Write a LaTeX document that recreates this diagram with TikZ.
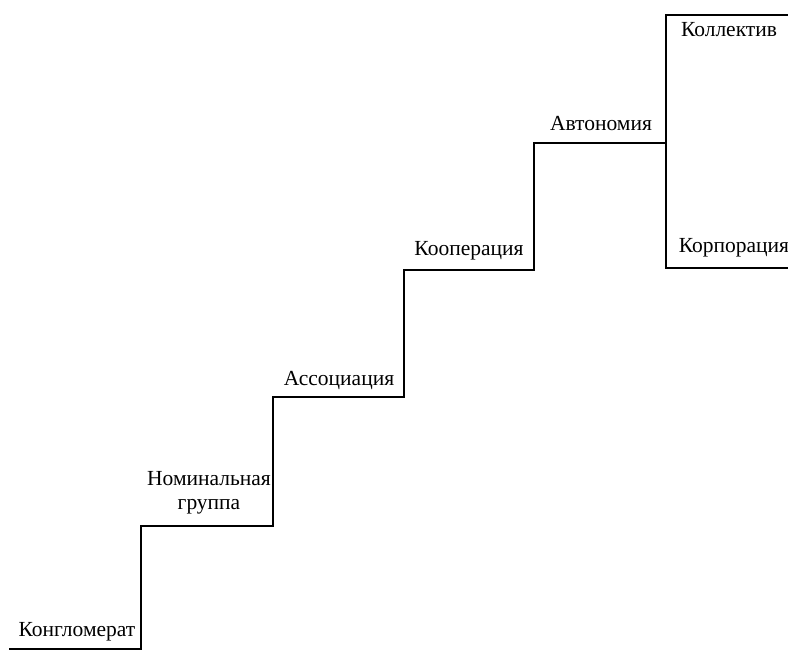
\documentclass[tikz,border=0pt]{standalone}
\usepackage{fontspec}
\setmainfont{Liberation Serif}
\begin{document}
\begin{tikzpicture}[x=1pt,y=-1pt,
  stair/.style={line width=2.8pt, line cap=rect, line join=miter, black},
  lbl/.style={font=\fontsize{21.5}{24}\selectfont, inner sep=0pt, align=center}]
\useasboundingbox (0,0) rectangle (788,651);
\coordinate (s0) at (10,649);
\coordinate (c1) at (141,649);
\coordinate (c2) at (141,526);
\coordinate (c3) at (273,526);
\coordinate (c4) at (273,397);
\coordinate (c5) at (404,397);
\coordinate (c6) at (404,270);
\coordinate (c7) at (534,270);
\coordinate (c8) at (534,143);
\coordinate (c9) at (666,143);
\coordinate (t1) at (666,15);
\coordinate (t2) at (790,15);
\coordinate (b1) at (666,268);
\coordinate (b2) at (790,268);
\draw[stair] (s0) -- (c1) -- (c2) -- (c3) -- (c4) -- (c5) -- (c6) -- (c7) -- (c8) -- (c9) -- (t1) -- (t2);
\draw[stair] (c9) -- (b1) -- (b2);
\node[lbl] (n1) at (77,632) {Конгломерат};
\node[lbl] (n2) at (209,493) {Номинальная\\группа};
\node[lbl] (n3) at (339,380) {Ассоциация};
\node[lbl] (n4) at (469,251) {Кооперация};
\node[lbl] (n5) at (601,124) {Автономия};
\node[lbl] (n6) at (729,30) {Коллектив};
\node[lbl] (n7) at (734,248) {Корпорация};
\end{tikzpicture}
\end{document}
